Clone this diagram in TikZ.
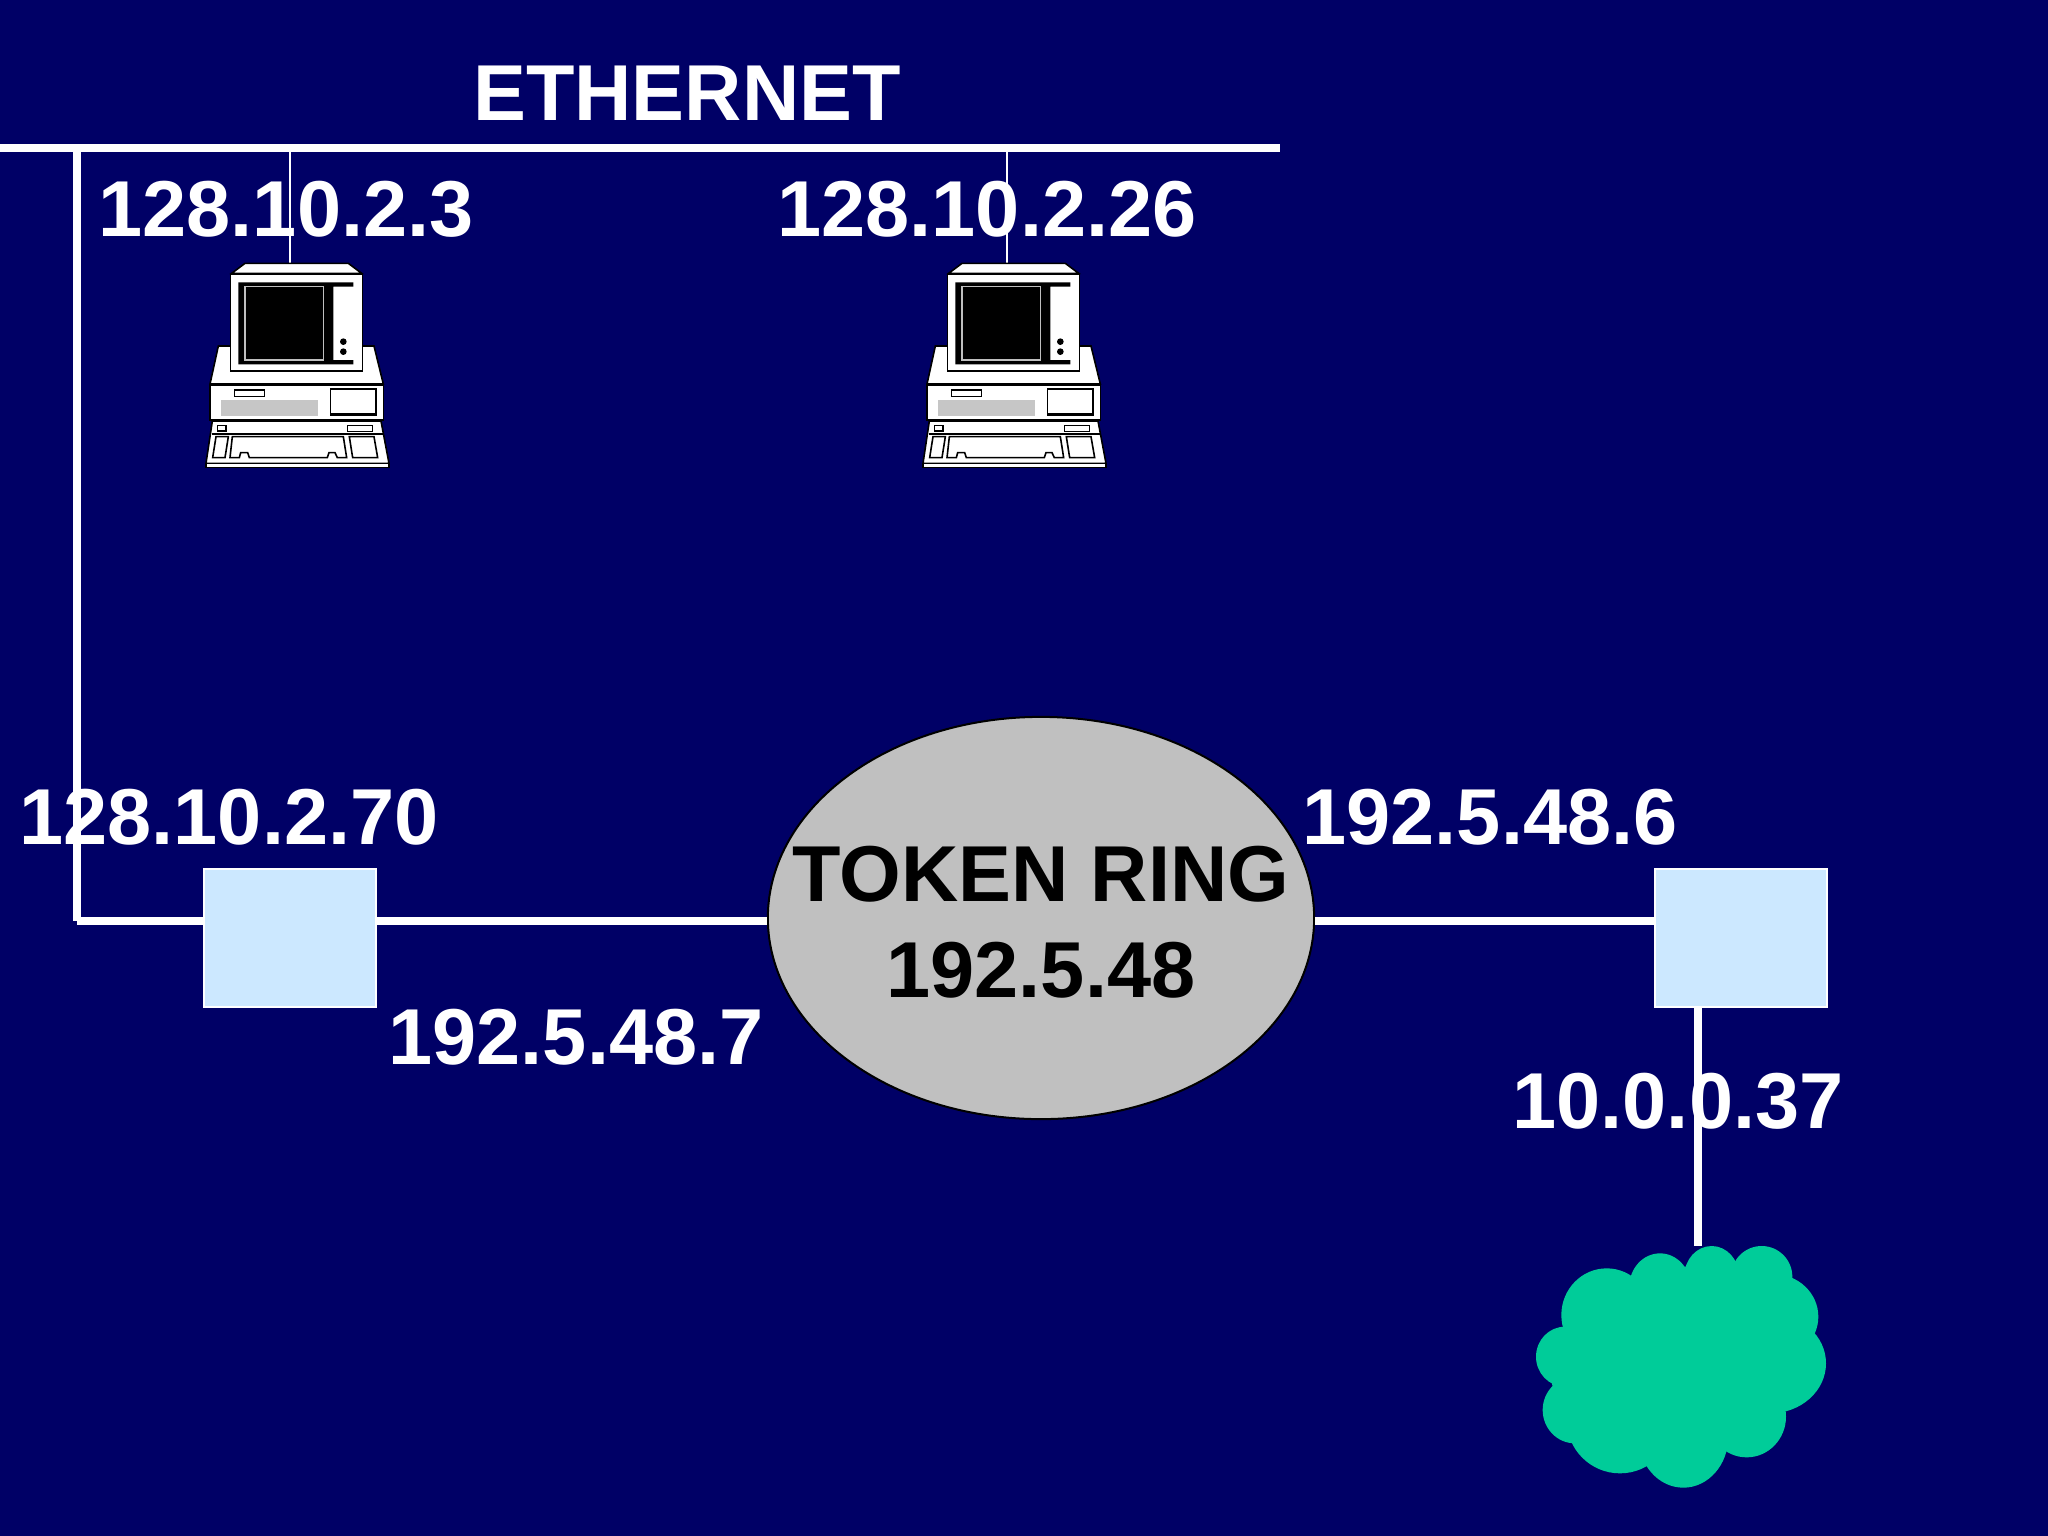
\documentclass[tikz,border=0pt]{standalone}
\usepackage{xcolor}
\usepackage{fontspec}
\setmainfont{Liberation Sans}
\usetikzlibrary{positioning, shapes}
\definecolor{navybg}{HTML}{000066}
\definecolor{routerblue}{HTML}{CCE8FF}
\definecolor{ringgray}{HTML}{C0C0C0}
\definecolor{cloudgreen}{HTML}{00CC99}
\tikzset{
    wire/.style={draw=white, line width=.08cm},
    tap/.style={draw=white, line width=.02cm},
    router/.style={draw=white, line width=.02cm, fill=routerblue, minimum width=1.72cm, minimum height=1.38cm, inner sep=0},
    addr/.style={text=white, font=\fontsize{22.55pt}{24pt}\selectfont\bfseries, inner sep=0},
    ringtext/.style={text=black, font=\fontsize{22.55pt}{24pt}\selectfont\bfseries, inner sep=0},
    pcline/.style={draw=black, fill=white, line width=.016cm},
    pics/computer/.style={code={
        \path[pcline] (115,318) -- (582,318) -- (610,432) -- (90,432) -- cycle;
        \path[pcline] (155,100) -- (195,70) -- (505,70) -- (545,100) -- cycle;
        \path[pcline] (152,103) rectangle (548,393);
        \fill[black] (175,127) -- (520,127) -- (520,140) -- (460,140) -- (460,360) -- (520,360) -- (520,373) -- (175,373) -- cycle;
        \draw[lightgray, fill=black, line width=.015cm] (195,140) rectangle (430,360);
        \fill[black] (490,305) circle (10) (490,335) circle (10);
        \path[pcline] (90,435) rectangle (610,540);
        \path[pcline] (163,450) rectangle (253,470);
        \fill[gray!45] (122,480) rectangle (413,527);
        \path[pcline] (452,447) rectangle (588,525);
        \fill[black] (452,518) rectangle (588,528);
        \path[pcline] (97,543) -- (603,543) -- (627,670) -- (78,670) -- cycle;
        \path[pcline] (78,670) rectangle (627,682);
        \draw[black, line width=.016cm] (95,582) -- (610,582);
        \path[pcline] (113,557) rectangle (138,573);
        \path[pcline] (502,557) rectangle (578,574);
        \path[pcline] (108,590) -- (145,590) -- (135,653) -- (98,653) -- cycle;
        \path[pcline] (157,590) -- (490,590) -- (500,653) -- (472,653) -- (465,638) -- (447,638) -- (442,653) -- (208,653) -- (203,638) -- (182,638) -- (178,653) -- (150,653) -- cycle;
        \path[pcline] (508,590) -- (582,590) -- (593,653) -- (518,653) -- cycle;
    }}
}

\begin{document}
\begin{tikzpicture}[x=.01cm, y=-.01cm]
    \fill[navybg] (0,0) rectangle (2048,1536);
    \useasboundingbox (0,0) rectangle (2048,1536);

    \coordinate (busl) at (0,148);
    \coordinate (busr) at (1280,148);
    \coordinate (busdrop) at (77,148);
    \coordinate (corner) at (77,921);
    \coordinate (cloudtop) at (1698,1246);

    \node[router] (rtra) at (290,938) {};
    \node[router] (rtrb) at (1741,938) {};
    \node[ellipse, draw=black, line width=.02cm, fill=ringgray, minimum width=5.46cm, minimum height=4.02cm, inner sep=0] (ring) at (1041,918) {};

    \draw[wire] (busl) -- (busr);
    \draw[wire] (busdrop) -- (corner);
    \draw[wire] (corner) -- (corner -| rtra.west);
    \draw[wire] (corner -| rtra.east) -- (corner -| ring.west);
    \draw[wire] (corner -| ring.east) -- (corner -| rtrb.west);
    \draw[wire] (cloudtop |- rtrb.south) -- (cloudtop);

    \foreach \cx/\tapx/\pcname in {180/290/pca, 897/1007/pcb} {
        \coordinate (\pcname) at (\tapx,264);
        \coordinate (\pcname tap) at (\tapx,148);
        \draw[tap] (\pcname tap) -- (\pcname);
        \pic[scale=1/3] at (\cx,240) {computer};
    }

    \begin{scope}[shift={(1500,1220)}, scale=1/3]
        \foreach \cxx/\cyy/\rxx/\ryy in {320/285/136/140, 480/200/92/100, 635/168/82/90, 785/170/92/92, 820/290/135/128, 810/430/168/150, 740/590/118/122, 550/650/135/153, 360/600/160/160, 225/570/97/100, 195/410/87/90, 550/420/280/280, 300/450/150/150} {
            \fill[cloudgreen] (\cxx,\cyy) ellipse ({\rxx} and {\ryy});
        }
    \end{scope}

    \node[addr] (ethlabel) at (687,93) {ETHERNET};
    \node[addr] (pcaip) at (286,209) {128.10.2.3};
    \node[addr] (pcbip) at (987,209) {128.10.2.26};
    \node[addr] (rtraup) at (229,817) {128.10.2.70};
    \node[addr] (rtradown) at (576,1037) {192.5.48.7};
    \node[addr] (rtrbup) at (1490,817) {192.5.48.6};
    \node[addr] (rtrbdown) at (1678,1101) {10.0.0.37};
    \node[ringtext] (ringname) at (1041,874) {TOKEN RING};
    \node[ringtext] (ringnet) at (1041,970) {192.5.48};
\end{tikzpicture}
\end{document}
